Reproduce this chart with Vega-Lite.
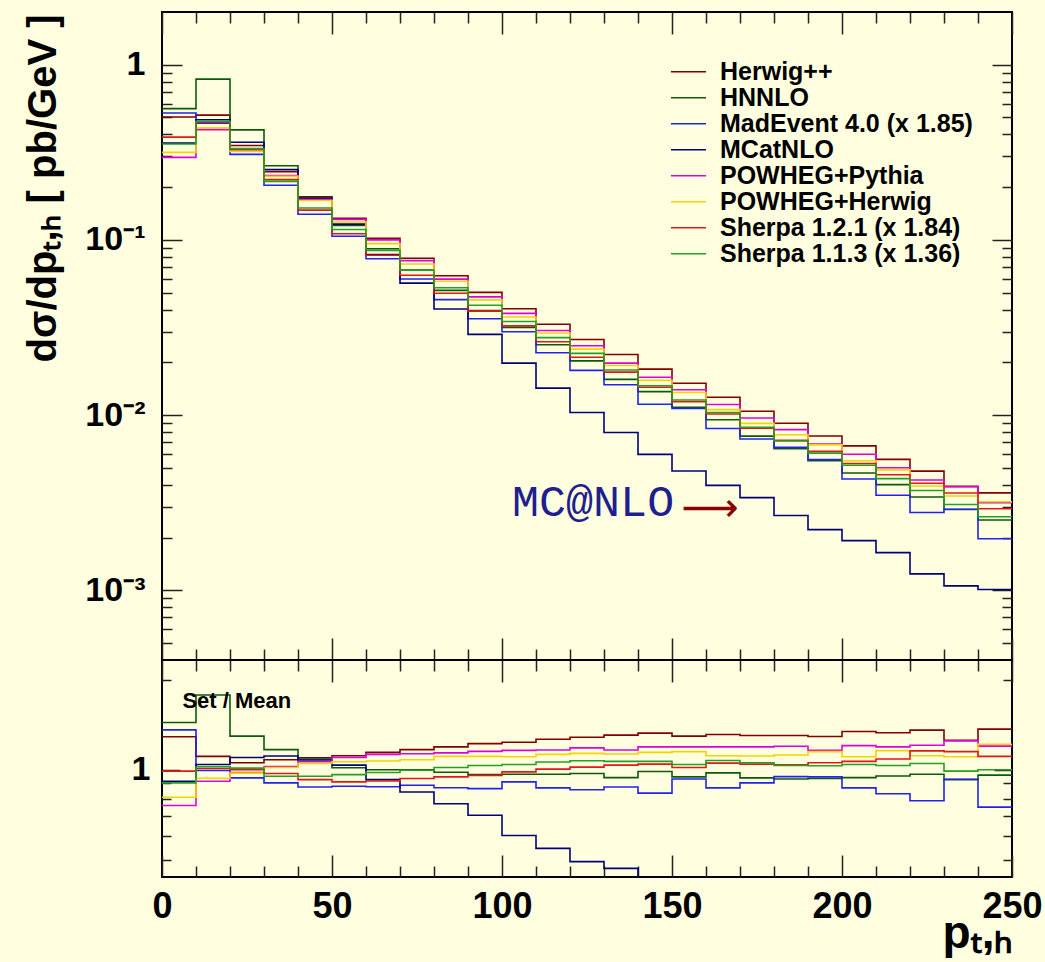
{
 "$schema": "https://vega.github.io/schema/vega-lite/v6.json",
 "background": "#ffffe0",
 "padding": {"left": 22, "top": 10, "right": 10, "bottom": 5},
 "spacing": 0,
 "bounds": "flush",
 "resolve": {"scale": {"x": "independent", "y": "independent", "color": "shared"}},
 "data": {"values": [
  {"model":"Herwig++","pt":0,"xs":0.503,"ratio":1.29},{"model":"Herwig++","pt":10,"xs":0.516,"ratio":1.109},{"model":"Herwig++","pt":20,"xs":0.346,"ratio":1.056},{"model":"Herwig++","pt":30,"xs":0.245,"ratio":1.081},{"model":"Herwig++","pt":40,"xs":0.176,"ratio":1.098},{"model":"Herwig++","pt":50,"xs":0.133,"ratio":1.115},{"model":"Herwig++","pt":60,"xs":0.102,"ratio":1.144},{"model":"Herwig++","pt":70,"xs":0.0786,"ratio":1.168},{"model":"Herwig++","pt":80,"xs":0.0625,"ratio":1.193},{"model":"Herwig++","pt":90,"xs":0.0502,"ratio":1.224},{"model":"Herwig++","pt":100,"xs":0.0405,"ratio":1.236},{"model":"Herwig++","pt":110,"xs":0.033,"ratio":1.266},{"model":"Herwig++","pt":120,"xs":0.027,"ratio":1.285},{"model":"Herwig++","pt":130,"xs":0.0222,"ratio":1.306},{"model":"Herwig++","pt":140,"xs":0.0183,"ratio":1.327},{"model":"Herwig++","pt":150,"xs":0.0152,"ratio":1.296},{"model":"Herwig++","pt":160,"xs":0.01264,"ratio":1.313},{"model":"Herwig++","pt":170,"xs":0.01052,"ratio":1.303},{"model":"Herwig++","pt":180,"xs":0.00898,"ratio":1.303},{"model":"Herwig++","pt":190,"xs":0.0076,"ratio":1.293},{"model":"Herwig++","pt":200,"xs":0.00667,"ratio":1.344},{"model":"Herwig++","pt":210,"xs":0.00559,"ratio":1.33},{"model":"Herwig++","pt":220,"xs":0.00479,"ratio":1.358},{"model":"Herwig++","pt":230,"xs":0.00392,"ratio":1.256},{"model":"Herwig++","pt":240,"xs":0.0036,"ratio":1.368},{"model":"Herwig++","pt":250,"xs":0.0036,"ratio":1.368},
  {"model":"HNNLO","pt":0,"xs":0.562,"ratio":1.44},{"model":"HNNLO","pt":10,"xs":0.828,"ratio":1.78},{"model":"HNNLO","pt":20,"xs":0.425,"ratio":1.296},{"model":"HNNLO","pt":30,"xs":0.265,"ratio":1.168},{"model":"HNNLO","pt":40,"xs":0.174,"ratio":1.087},{"model":"HNNLO","pt":50,"xs":0.121,"ratio":1.016},{"model":"HNNLO","pt":60,"xs":0.089,"ratio":1.0},{"model":"HNNLO","pt":70,"xs":0.0673,"ratio":1.0},{"model":"HNNLO","pt":80,"xs":0.0515,"ratio":0.982},{"model":"HNNLO","pt":90,"xs":0.0395,"ratio":0.964},{"model":"HNNLO","pt":100,"xs":0.0317,"ratio":0.967},{"model":"HNNLO","pt":110,"xs":0.0252,"ratio":0.967},{"model":"HNNLO","pt":120,"xs":0.0204,"ratio":0.972},{"model":"HNNLO","pt":130,"xs":0.016,"ratio":0.942},{"model":"HNNLO","pt":140,"xs":0.01362,"ratio":0.987},{"model":"HNNLO","pt":150,"xs":0.01108,"ratio":0.947},{"model":"HNNLO","pt":160,"xs":0.00941,"ratio":0.977},{"model":"HNNLO","pt":170,"xs":0.00759,"ratio":0.94},{"model":"HNNLO","pt":180,"xs":0.00642,"ratio":0.932},{"model":"HNNLO","pt":190,"xs":0.0055,"ratio":0.935},{"model":"HNNLO","pt":200,"xs":0.00467,"ratio":0.942},{"model":"HNNLO","pt":210,"xs":0.00401,"ratio":0.954},{"model":"HNNLO","pt":220,"xs":0.00341,"ratio":0.967},{"model":"HNNLO","pt":230,"xs":0.00289,"ratio":0.927},{"model":"HNNLO","pt":240,"xs":0.00252,"ratio":0.96},{"model":"HNNLO","pt":250,"xs":0.00252,"ratio":0.96},
  {"model":"MadEvent 4.0 (x 1.85)","pt":0,"xs":0.53,"ratio":1.36},{"model":"MadEvent 4.0 (x 1.85)","pt":10,"xs":0.463,"ratio":0.995},{"model":"MadEvent 4.0 (x 1.85)","pt":20,"xs":0.308,"ratio":0.94},{"model":"MadEvent 4.0 (x 1.85)","pt":30,"xs":0.205,"ratio":0.904},{"model":"MadEvent 4.0 (x 1.85)","pt":40,"xs":0.14,"ratio":0.876},{"model":"MadEvent 4.0 (x 1.85)","pt":50,"xs":0.105,"ratio":0.881},{"model":"MadEvent 4.0 (x 1.85)","pt":60,"xs":0.0781,"ratio":0.878},{"model":"MadEvent 4.0 (x 1.85)","pt":70,"xs":0.0598,"ratio":0.888},{"model":"MadEvent 4.0 (x 1.85)","pt":80,"xs":0.0456,"ratio":0.871},{"model":"MadEvent 4.0 (x 1.85)","pt":90,"xs":0.0355,"ratio":0.865},{"model":"MadEvent 4.0 (x 1.85)","pt":100,"xs":0.0299,"ratio":0.911},{"model":"MadEvent 4.0 (x 1.85)","pt":110,"xs":0.0227,"ratio":0.87},{"model":"MadEvent 4.0 (x 1.85)","pt":120,"xs":0.018,"ratio":0.858},{"model":"MadEvent 4.0 (x 1.85)","pt":130,"xs":0.0149,"ratio":0.876},{"model":"MadEvent 4.0 (x 1.85)","pt":140,"xs":0.01154,"ratio":0.836},{"model":"MadEvent 4.0 (x 1.85)","pt":150,"xs":0.0109,"ratio":0.932},{"model":"MadEvent 4.0 (x 1.85)","pt":160,"xs":0.00838,"ratio":0.87},{"model":"MadEvent 4.0 (x 1.85)","pt":170,"xs":0.0073,"ratio":0.904},{"model":"MadEvent 4.0 (x 1.85)","pt":180,"xs":0.00654,"ratio":0.949},{"model":"MadEvent 4.0 (x 1.85)","pt":190,"xs":0.00557,"ratio":0.947},{"model":"MadEvent 4.0 (x 1.85)","pt":200,"xs":0.00432,"ratio":0.87},{"model":"MadEvent 4.0 (x 1.85)","pt":210,"xs":0.00349,"ratio":0.832},{"model":"MadEvent 4.0 (x 1.85)","pt":220,"xs":0.00278,"ratio":0.788},{"model":"MadEvent 4.0 (x 1.85)","pt":230,"xs":0.0029,"ratio":0.93},{"model":"MadEvent 4.0 (x 1.85)","pt":240,"xs":0.00197,"ratio":0.75},{"model":"MadEvent 4.0 (x 1.85)","pt":250,"xs":0.00197,"ratio":0.75},
  {"model":"MCatNLO","pt":0,"xs":0.357,"ratio":0.916},{"model":"MCatNLO","pt":10,"xs":0.485,"ratio":1.042},{"model":"MCatNLO","pt":20,"xs":0.361,"ratio":1.1},{"model":"MCatNLO","pt":30,"xs":0.252,"ratio":1.112},{"model":"MCatNLO","pt":40,"xs":0.172,"ratio":1.078},{"model":"MCatNLO","pt":50,"xs":0.123,"ratio":1.037},{"model":"MCatNLO","pt":60,"xs":0.0825,"ratio":0.927},{"model":"MCatNLO","pt":70,"xs":0.0567,"ratio":0.843},{"model":"MCatNLO","pt":80,"xs":0.0403,"ratio":0.77},{"model":"MCatNLO","pt":90,"xs":0.0289,"ratio":0.705},{"model":"MCatNLO","pt":100,"xs":0.0198,"ratio":0.603},{"model":"MCatNLO","pt":110,"xs":0.01425,"ratio":0.546},{"model":"MCatNLO","pt":120,"xs":0.01035,"ratio":0.493},{"model":"MCatNLO","pt":130,"xs":0.00796,"ratio":0.468},{"model":"MCatNLO","pt":140,"xs":0.00597,"ratio":0.433},{"model":"MCatNLO","pt":150,"xs":0.0048,"ratio":0.41},{"model":"MCatNLO","pt":160,"xs":0.00397,"ratio":0.412},{"model":"MCatNLO","pt":170,"xs":0.00338,"ratio":0.419},{"model":"MCatNLO","pt":180,"xs":0.00267,"ratio":0.388},{"model":"MCatNLO","pt":190,"xs":0.00222,"ratio":0.378},{"model":"MCatNLO","pt":200,"xs":0.00192,"ratio":0.387},{"model":"MCatNLO","pt":210,"xs":0.00164,"ratio":0.39},{"model":"MCatNLO","pt":220,"xs":0.00124,"ratio":0.351},{"model":"MCatNLO","pt":230,"xs":0.00106,"ratio":0.34},{"model":"MCatNLO","pt":240,"xs":0.00101,"ratio":0.384},{"model":"MCatNLO","pt":250,"xs":0.00101,"ratio":0.384},
  {"model":"POWHEG+Pythia","pt":0,"xs":0.296,"ratio":0.76},{"model":"POWHEG+Pythia","pt":10,"xs":0.426,"ratio":0.916},{"model":"POWHEG+Pythia","pt":20,"xs":0.321,"ratio":0.98},{"model":"POWHEG+Pythia","pt":30,"xs":0.233,"ratio":1.026},{"model":"POWHEG+Pythia","pt":40,"xs":0.17,"ratio":1.064},{"model":"POWHEG+Pythia","pt":50,"xs":0.131,"ratio":1.1},{"model":"POWHEG+Pythia","pt":60,"xs":0.1,"ratio":1.126},{"model":"POWHEG+Pythia","pt":70,"xs":0.0762,"ratio":1.132},{"model":"POWHEG+Pythia","pt":80,"xs":0.0597,"ratio":1.139},{"model":"POWHEG+Pythia","pt":90,"xs":0.0473,"ratio":1.153},{"model":"POWHEG+Pythia","pt":100,"xs":0.0381,"ratio":1.162},{"model":"POWHEG+Pythia","pt":110,"xs":0.0304,"ratio":1.165},{"model":"POWHEG+Pythia","pt":120,"xs":0.0249,"ratio":1.184},{"model":"POWHEG+Pythia","pt":130,"xs":0.0198,"ratio":1.165},{"model":"POWHEG+Pythia","pt":140,"xs":0.01646,"ratio":1.193},{"model":"POWHEG+Pythia","pt":150,"xs":0.01396,"ratio":1.193},{"model":"POWHEG+Pythia","pt":160,"xs":0.01149,"ratio":1.193},{"model":"POWHEG+Pythia","pt":170,"xs":0.00963,"ratio":1.193},{"model":"POWHEG+Pythia","pt":180,"xs":0.00826,"ratio":1.199},{"model":"POWHEG+Pythia","pt":190,"xs":0.00683,"ratio":1.162},{"model":"POWHEG+Pythia","pt":200,"xs":0.00598,"ratio":1.205},{"model":"POWHEG+Pythia","pt":210,"xs":0.00501,"ratio":1.193},{"model":"POWHEG+Pythia","pt":220,"xs":0.00426,"ratio":1.208},{"model":"POWHEG+Pythia","pt":230,"xs":0.0039,"ratio":1.25},{"model":"POWHEG+Pythia","pt":240,"xs":0.00316,"ratio":1.2},{"model":"POWHEG+Pythia","pt":250,"xs":0.00316,"ratio":1.2},
  {"model":"POWHEG+Herwig","pt":0,"xs":0.316,"ratio":0.81},{"model":"POWHEG+Herwig","pt":10,"xs":0.436,"ratio":0.937},{"model":"POWHEG+Herwig","pt":20,"xs":0.32,"ratio":0.975},{"model":"POWHEG+Herwig","pt":30,"xs":0.231,"ratio":1.018},{"model":"POWHEG+Herwig","pt":40,"xs":0.168,"ratio":1.05},{"model":"POWHEG+Herwig","pt":50,"xs":0.1266,"ratio":1.064},{"model":"POWHEG+Herwig","pt":60,"xs":0.0952,"ratio":1.07},{"model":"POWHEG+Herwig","pt":70,"xs":0.0728,"ratio":1.081},{"model":"POWHEG+Herwig","pt":80,"xs":0.0581,"ratio":1.109},{"model":"POWHEG+Herwig","pt":90,"xs":0.0455,"ratio":1.109},{"model":"POWHEG+Herwig","pt":100,"xs":0.0363,"ratio":1.106},{"model":"POWHEG+Herwig","pt":110,"xs":0.0294,"ratio":1.126},{"model":"POWHEG+Herwig","pt":120,"xs":0.0238,"ratio":1.135},{"model":"POWHEG+Herwig","pt":130,"xs":0.0192,"ratio":1.13},{"model":"POWHEG+Herwig","pt":140,"xs":0.01579,"ratio":1.144},{"model":"POWHEG+Herwig","pt":150,"xs":0.01346,"ratio":1.15},{"model":"POWHEG+Herwig","pt":160,"xs":0.01074,"ratio":1.115},{"model":"POWHEG+Herwig","pt":170,"xs":0.00897,"ratio":1.112},{"model":"POWHEG+Herwig","pt":180,"xs":0.00772,"ratio":1.121},{"model":"POWHEG+Herwig","pt":190,"xs":0.00676,"ratio":1.15},{"model":"POWHEG+Herwig","pt":200,"xs":0.00549,"ratio":1.106},{"model":"POWHEG+Herwig","pt":210,"xs":0.00487,"ratio":1.159},{"model":"POWHEG+Herwig","pt":220,"xs":0.00394,"ratio":1.115},{"model":"POWHEG+Herwig","pt":230,"xs":0.00345,"ratio":1.106},{"model":"POWHEG+Herwig","pt":240,"xs":0.0032,"ratio":1.218},{"model":"POWHEG+Herwig","pt":250,"xs":0.0032,"ratio":1.218},
  {"model":"Sherpa 1.2.1 (x 1.84)","pt":0,"xs":0.386,"ratio":0.99},{"model":"Sherpa 1.2.1 (x 1.84)","pt":10,"xs":0.47,"ratio":1.01},{"model":"Sherpa 1.2.1 (x 1.84)","pt":20,"xs":0.328,"ratio":1.0},{"model":"Sherpa 1.2.1 (x 1.84)","pt":30,"xs":0.221,"ratio":0.972},{"model":"Sherpa 1.2.1 (x 1.84)","pt":40,"xs":0.148,"ratio":0.927},{"model":"Sherpa 1.2.1 (x 1.84)","pt":50,"xs":0.1084,"ratio":0.911},{"model":"Sherpa 1.2.1 (x 1.84)","pt":60,"xs":0.0817,"ratio":0.918},{"model":"Sherpa 1.2.1 (x 1.84)","pt":70,"xs":0.0629,"ratio":0.935},{"model":"Sherpa 1.2.1 (x 1.84)","pt":80,"xs":0.0496,"ratio":0.947},{"model":"Sherpa 1.2.1 (x 1.84)","pt":90,"xs":0.0392,"ratio":0.957},{"model":"Sherpa 1.2.1 (x 1.84)","pt":100,"xs":0.0323,"ratio":0.984},{"model":"Sherpa 1.2.1 (x 1.84)","pt":110,"xs":0.0262,"ratio":1.005},{"model":"Sherpa 1.2.1 (x 1.84)","pt":120,"xs":0.0214,"ratio":1.021},{"model":"Sherpa 1.2.1 (x 1.84)","pt":130,"xs":0.0176,"ratio":1.037},{"model":"Sherpa 1.2.1 (x 1.84)","pt":140,"xs":0.01442,"ratio":1.045},{"model":"Sherpa 1.2.1 (x 1.84)","pt":150,"xs":0.01191,"ratio":1.018},{"model":"Sherpa 1.2.1 (x 1.84)","pt":160,"xs":0.01014,"ratio":1.053},{"model":"Sherpa 1.2.1 (x 1.84)","pt":170,"xs":0.00843,"ratio":1.045},{"model":"Sherpa 1.2.1 (x 1.84)","pt":180,"xs":0.00717,"ratio":1.04},{"model":"Sherpa 1.2.1 (x 1.84)","pt":190,"xs":0.00621,"ratio":1.056},{"model":"Sherpa 1.2.1 (x 1.84)","pt":200,"xs":0.00529,"ratio":1.067},{"model":"Sherpa 1.2.1 (x 1.84)","pt":210,"xs":0.00457,"ratio":1.087},{"model":"Sherpa 1.2.1 (x 1.84)","pt":220,"xs":0.00408,"ratio":1.157},{"model":"Sherpa 1.2.1 (x 1.84)","pt":230,"xs":0.00359,"ratio":1.15},{"model":"Sherpa 1.2.1 (x 1.84)","pt":240,"xs":0.00292,"ratio":1.109},{"model":"Sherpa 1.2.1 (x 1.84)","pt":250,"xs":0.00292,"ratio":1.109},
  {"model":"Sherpa 1.1.3 (x 1.36)","pt":0,"xs":0.353,"ratio":0.904},{"model":"Sherpa 1.1.3 (x 1.36)","pt":10,"xs":0.476,"ratio":1.024},{"model":"Sherpa 1.1.3 (x 1.36)","pt":20,"xs":0.332,"ratio":1.013},{"model":"Sherpa 1.1.3 (x 1.36)","pt":30,"xs":0.216,"ratio":0.952},{"model":"Sherpa 1.1.3 (x 1.36)","pt":40,"xs":0.152,"ratio":0.952},{"model":"Sherpa 1.1.3 (x 1.36)","pt":50,"xs":0.1147,"ratio":0.964},{"model":"Sherpa 1.1.3 (x 1.36)","pt":60,"xs":0.0872,"ratio":0.98},{"model":"Sherpa 1.1.3 (x 1.36)","pt":70,"xs":0.0671,"ratio":0.997},{"model":"Sherpa 1.1.3 (x 1.36)","pt":80,"xs":0.0533,"ratio":1.018},{"model":"Sherpa 1.1.3 (x 1.36)","pt":90,"xs":0.0424,"ratio":1.034},{"model":"Sherpa 1.1.3 (x 1.36)","pt":100,"xs":0.0342,"ratio":1.042},{"model":"Sherpa 1.1.3 (x 1.36)","pt":110,"xs":0.0277,"ratio":1.062},{"model":"Sherpa 1.1.3 (x 1.36)","pt":120,"xs":0.0225,"ratio":1.072},{"model":"Sherpa 1.1.3 (x 1.36)","pt":130,"xs":0.0181,"ratio":1.067},{"model":"Sherpa 1.1.3 (x 1.36)","pt":140,"xs":0.01472,"ratio":1.067},{"model":"Sherpa 1.1.3 (x 1.36)","pt":150,"xs":0.01219,"ratio":1.042},{"model":"Sherpa 1.1.3 (x 1.36)","pt":160,"xs":0.01035,"ratio":1.075},{"model":"Sherpa 1.1.3 (x 1.36)","pt":170,"xs":0.00852,"ratio":1.056},{"model":"Sherpa 1.1.3 (x 1.36)","pt":180,"xs":0.00712,"ratio":1.034},{"model":"Sherpa 1.1.3 (x 1.36)","pt":190,"xs":0.00607,"ratio":1.032},{"model":"Sherpa 1.1.3 (x 1.36)","pt":200,"xs":0.00517,"ratio":1.042},{"model":"Sherpa 1.1.3 (x 1.36)","pt":210,"xs":0.00434,"ratio":1.034},{"model":"Sherpa 1.1.3 (x 1.36)","pt":220,"xs":0.00371,"ratio":1.05},{"model":"Sherpa 1.1.3 (x 1.36)","pt":230,"xs":0.00309,"ratio":0.99},{"model":"Sherpa 1.1.3 (x 1.36)","pt":240,"xs":0.00263,"ratio":1.0},{"model":"Sherpa 1.1.3 (x 1.36)","pt":250,"xs":0.00263,"ratio":1.0}
 ]},
 "vconcat": [
  {
   "width": 850, "height": 648,
   "resolve": {"axis": {"x": "independent", "y": "independent"}},
   "layer": [
    {
     "mark": {"type": "line", "interpolate": "step-after", "strokeWidth": 1.6, "clip": true},
     "encoding": {
      "x": {"field": "pt", "type": "quantitative", "scale": {"domain": [0, 250], "nice": false, "zero": false},
            "axis": {"orient": "bottom", "values": [0,10,20,30,40,50,60,70,80,90,100,110,120,130,140,150,160,170,180,190,200,210,220,230,240,250], "labels": false, "title": null,
                     "tickSize": {"condition": {"test": "datum.value % 50 === 0", "value": -22}, "value": -11}}},
      "y": {"field": "xs", "type": "quantitative", "scale": {"type": "log", "domain": [0.0004, 2], "nice": false},
            "axis": {"orient": "left", "values": [0.0005,0.0006,0.0007,0.0008,0.0009,0.001,0.002,0.003,0.004,0.005,0.006,0.007,0.008,0.009,0.01,0.02,0.03,0.04,0.05,0.06,0.07,0.08,0.09,0.1,0.2,0.3,0.4,0.5,0.6,0.7,0.8,0.9,1],
                     "labelExpr": "datum.value === 1 ? '1' : datum.value === 0.1 ? '10⁻¹' : datum.value === 0.01 ? '10⁻²' : datum.value === 0.001 ? '10⁻³' : ''",
                     "tickSize": {"condition": {"test": "datum.value === 1 || datum.value === 0.1 || datum.value === 0.01 || datum.value === 0.001", "value": -20}, "value": -10},
                     "labelPadding": 37, "labelFontSize": 34,
                     "title": "dσ/dpₜ,ₕ  [ pb/GeV ]", "titleFontSize": 40, "titleAngle": 270, "titleAlign": "right", "titleBaseline": "alphabetic", "titleX": -107, "titleY": 2}},
      "color": {"field": "model", "type": "nominal",
                "scale": {"domain": ["Herwig++","HNNLO","MadEvent 4.0 (x 1.85)","MCatNLO","POWHEG+Pythia","POWHEG+Herwig","Sherpa 1.2.1 (x 1.84)","Sherpa 1.1.3 (x 1.36)"],
                          "range": ["#7f0000","#0a5a0a","#2222ee","#00007a","#dd00dd","#f2d400","#e01818","#22a022"]},
                "legend": {"orient": "none", "legendX": 508, "legendY": 47, "title": null, "symbolType": "stroke", "symbolSize": 1225, "symbolStrokeWidth": 1.5,
                           "labelFont": "Liberation Sans", "labelFontSize": 25, "labelFontWeight": "bold", "labelColor": "black", "labelOffset": 13, "rowPadding": 0, "clipHeight": 25.5, "labelLimit": 500}}
     }
    },
    {
     "data": {"values": [{"label": "MC@NLO"}]},
     "mark": {"type": "text", "font": "Liberation Mono", "fontSize": 45, "color": "#1f1f8f", "align": "center", "baseline": "middle"},
     "encoding": {
      "x": {"datum": 126.8, "type": "quantitative",
            "axis": {"orient": "top", "values": [0,10,20,30,40,50,60,70,80,90,100,110,120,130,140,150,160,170,180,190,200,210,220,230,240,250], "labels": false, "title": null,
                     "tickSize": {"condition": {"test": "datum.value % 50 === 0", "value": -22}, "value": -11}}},
      "y": {"datum": 0.00321, "type": "quantitative",
            "axis": {"orient": "right", "values": [0.0005,0.0006,0.0007,0.0008,0.0009,0.001,0.002,0.003,0.004,0.005,0.006,0.007,0.008,0.009,0.01,0.02,0.03,0.04,0.05,0.06,0.07,0.08,0.09,0.1,0.2,0.3,0.4,0.5,0.6,0.7,0.8,0.9,1],
                     "labels": false, "title": null,
                     "tickSize": {"condition": {"test": "datum.value === 1 || datum.value === 0.1 || datum.value === 0.01 || datum.value === 0.001", "value": -20}, "value": -10}}},
      "text": {"field": "label"}
     }
    },
    {
     "data": {"values": [{"label": "⟶"}]},
     "mark": {"type": "text", "font": "DejaVu Sans", "fontSize": 40, "color": "#8b0000", "align": "center", "baseline": "middle"},
     "encoding": {
      "x": {"datum": 161.2, "type": "quantitative", "axis": null},
      "y": {"datum": 0.00292, "type": "quantitative", "axis": null},
      "text": {"field": "label"}
     }
    }
   ]
  },
  {
   "width": 850, "height": 217,
   "resolve": {"axis": {"x": "independent", "y": "independent"}},
   "layer": [
    {
     "mark": {"type": "line", "interpolate": "step-after", "strokeWidth": 1.6, "clip": true},
     "encoding": {
      "x": {"field": "pt", "type": "quantitative", "scale": {"domain": [0, 250], "nice": false, "zero": false},
            "axis": {"orient": "bottom", "values": [0,10,20,30,40,50,60,70,80,90,100,110,120,130,140,150,160,170,180,190,200,210,220,230,240,250],
                     "labelExpr": "datum.value % 50 === 0 ? datum.label : ''", "labelFontSize": 36, "labelPadding": 34,
                     "tickSize": {"condition": {"test": "datum.value % 50 === 0", "value": -22}, "value": -11},
                     "title": "pₜ,ₕ", "titleFontSize": 46, "titleAlign": "right", "titleBaseline": "alphabetic", "titleX": 850, "titleY": 70}},
      "y": {"field": "ratio", "type": "quantitative", "scale": {"type": "log", "domain": [0.438, 2.33], "nice": false},
            "axis": {"orient": "left", "values": [0.5,0.6,0.7,0.8,0.9,1,2],
                     "labelExpr": "datum.value === 1 ? '1' : ''", "labelFontSize": 34, "labelPadding": 30,
                     "tickSize": {"condition": {"test": "datum.value === 1", "value": -18}, "value": -9},
                     "title": null}},
      "color": {"field": "model", "type": "nominal",
                "scale": {"domain": ["Herwig++","HNNLO","MadEvent 4.0 (x 1.85)","MCatNLO","POWHEG+Pythia","POWHEG+Herwig","Sherpa 1.2.1 (x 1.84)","Sherpa 1.1.3 (x 1.36)"],
                          "range": ["#7f0000","#0a5a0a","#2222ee","#00007a","#dd00dd","#f2d400","#e01818","#22a022"]},
                "legend": null}
     }
    },
    {
     "data": {"values": [{"label": "Set / Mean"}]},
     "mark": {"type": "text", "font": "Liberation Sans", "fontSize": 22, "fontWeight": "bold", "color": "black", "align": "left", "baseline": "middle"},
     "encoding": {
      "x": {"datum": 6, "type": "quantitative",
            "axis": {"orient": "top", "values": [0,10,20,30,40,50,60,70,80,90,100,110,120,130,140,150,160,170,180,190,200,210,220,230,240,250], "labels": false, "title": null,
                     "tickSize": {"condition": {"test": "datum.value % 50 === 0", "value": -22}, "value": -11}}},
      "y": {"datum": 1.7, "type": "quantitative",
            "axis": {"orient": "right", "values": [0.5,0.6,0.7,0.8,0.9,1,2], "labels": false, "title": null,
                     "tickSize": {"condition": {"test": "datum.value === 1", "value": -18}, "value": -9}}},
      "text": {"field": "label"}
     }
    }
   ]
  }
 ],
 "config": {
  "view": {"stroke": "black", "strokeWidth": 2},
  "font": "Liberation Sans",
  "axis": {"grid": false, "domain": false, "tickColor": "#222222", "tickWidth": 1.5, "labelColor": "black", "titleColor": "black",
           "labelFont": "Liberation Sans", "labelFontWeight": "bold", "titleFont": "Liberation Sans", "titleFontWeight": "bold",
           "labelOverlap": false, "labelFlush": false, "labelBound": false}
 }
}
